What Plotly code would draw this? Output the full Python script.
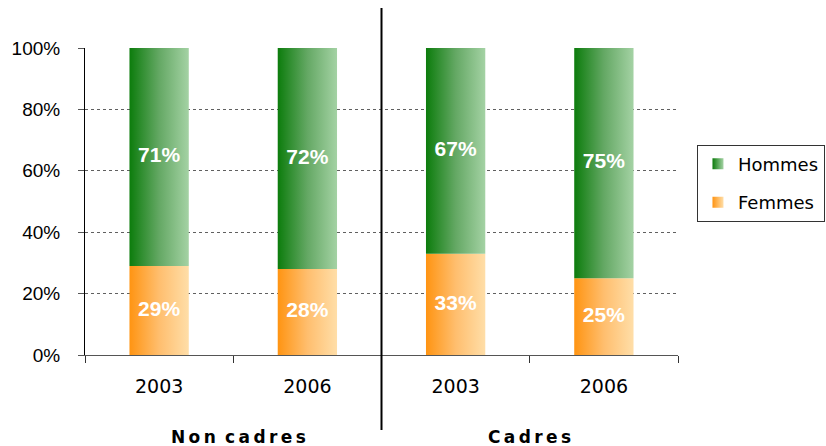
import plotly.graph_objs as go

# data
groups = ['Non cadres', 'Cadres']
years = ['2003', '2006', '2003', '2006']
femmes = [29, 28, 33, 25]
hommes = [71, 72, 67, 75]
y_ticks = [0, 20, 40, 60, 80, 100]

GREEN = ['rgb(12,124,12)', 'rgb(100,168,100)', 'rgb(164,210,164)']
ORANGE = ['rgb(255,148,18)', 'rgb(255,190,110)', 'rgb(255,222,168)']
BAR_W = 0.4
FONT = 'DejaVu Sans'


def spaced(text):
    """Crude letter spacing using thin spaces"""
    return '\u00a0\u2009'.join('\u2009'.join(word) for word in text.split(' '))


def bar_trace(i, base, value, colors):
    x0, x1 = i - BAR_W / 2, i + BAR_W / 2
    return go.Scatter(
        x=[x0, x1, x1, x0, x0], y=[base, base, base + value, base + value, base],
        mode='none', fill='toself', showlegend=False, hoverinfo='skip',
        fillgradient=dict(type='horizontal',
                          colorscale=[[0, colors[0]], [0.5, colors[1]], [1, colors[2]]])
    )


fig = go.Figure()
for i in range(len(years)):
    fig.add_trace(bar_trace(i, 0, femmes[i], ORANGE))
    fig.add_trace(bar_trace(i, femmes[i], hommes[i], GREEN))

# value labels
xs = list(range(len(years)))
fig.add_trace(go.Scatter(
    x=xs + xs, y=[f / 2 for f in femmes] + [f + h / 2 for f, h in zip(femmes, hommes)],
    text=[f'{v}%' for v in femmes + hommes], mode='text', showlegend=False, hoverinfo='skip',
    textfont=dict(family='Liberation Sans', size=21, color='white', weight='bold')
))

# legend-only entries
for name, colors in [('Hommes', GREEN), ('Femmes', ORANGE)]:
    fig.add_trace(go.Scatter(
        x=[None], y=[None], name=name, legendgroup=name, mode='markers',
        marker=dict(symbol='square', size=11, color=colors[0],
                    gradient=dict(type='horizontal', color=colors[2]))
    ))

# separator between groups
fig.add_shape(type='line', xref='x', yref='paper', x0=1.5, x1=1.5, y0=-0.244, y1=1.13,
              line=dict(color='black', width=2))

for gx, g, shift in zip([0.5, 2.5], groups, [5, 0]):
    fig.add_annotation(x=gx, xref='x', y=-0.267, yref='paper', yanchor='middle', xshift=shift,
                       text=spaced(g), showarrow=False,
                       font=dict(family=FONT, size=17, color='black', weight='bold'))

fig.update_layout(
    width=826, height=446,
    margin=dict(l=85, r=148, t=48, b=91, autoexpand=False),
    plot_bgcolor='white', paper_bgcolor='white',
    font=dict(family=FONT, color='black'),
    legend=dict(x=1.032, xanchor='left', y=0.56, yanchor='middle',
                bordercolor='#333333', borderwidth=1, bgcolor='white',
                font=dict(family=FONT, size=18), itemwidth=30, tracegroupgap=12),
    xaxis=dict(range=[-0.5, 3.5], tickvals=xs, ticktext=years, ticks='',
               showline=True, linecolor='#555555', linewidth=1,
               showgrid=False, zeroline=False, ticklabelstandoff=14,
               tickfont=dict(family=FONT, size=19),
               minor=dict(tick0=-0.5, dtick=1, ticks='outside', ticklen=7,
                          tickcolor='#333333', showgrid=False)),
    yaxis=dict(range=[0, 100], tickvals=y_ticks, ticktext=[f'{v}%' for v in y_ticks],
               ticks='outside', ticklen=6, tickcolor='#555555',
               showline=True, linecolor='black', linewidth=1,
               showgrid=True, gridcolor='#606060', griddash='dot', gridwidth=1,
               zeroline=False, ticklabelstandoff=14,
               tickfont=dict(family='Liberation Sans', size=19)),
)

# drop the default page margin so the figure sits at the window origin
fig.write_html('out.html', config={'displayModeBar': False},
               post_script="document.body.style.margin='0';document.body.style.overflow='hidden';")
